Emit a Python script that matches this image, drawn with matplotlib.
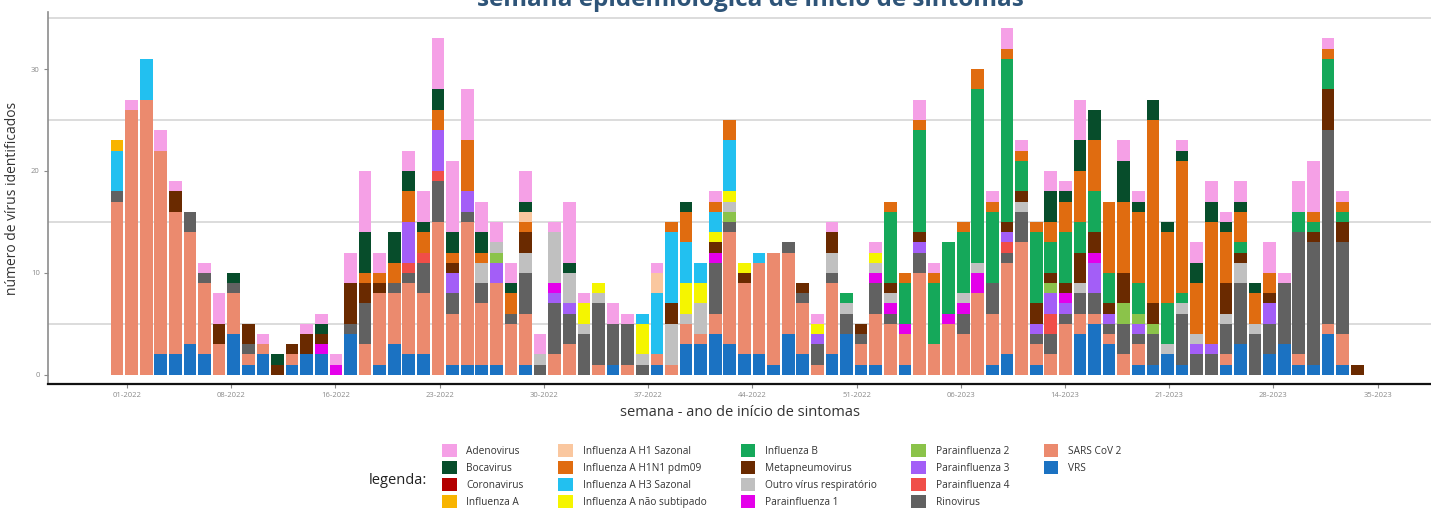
import numpy as np
import matplotlib.pyplot as plt
from matplotlib.patches import Patch

plt.rcParams['font.family'] = ['Open Sans', 'DejaVu Sans']

# x tick labels (epi week - year), one every ~50 days
tick_labels = ['01-2022', '08-2022', '16-2022', '23-2022', '30-2022', '37-2022', '44-2022',
               '51-2022', '06-2023', '14-2023', '21-2023', '28-2023', '35-2023']

# weekly counts, 86 weeks (01-2022 ... 34-2023)
adenovirus = [0,1,0,2,1,0,1,3,0,0, 1,0,0,1,1,1,3,6,2,0, 2,3,5,7,5,3,2,2,3,2,
              1,6,1,0,2,1,0,1,0,0, 0,1,0,0,0,0,0,0,1,1, 0,0,1,0,0,2,1,0,0,0,
              1,2,1,0,2,1,4,0,0,2, 1,0,0,1,2,2,1,2,0,3, 1,3,5,1,1,0]
bocavirus = [0,0,0,0,0,0,0,0,1,0, 0,1,0,0,1,0,0,4,0,3, 2,1,2,2,0,2,0,1,1,0,
             0,1,0,0,0,0,0,0,0,1, 0,0,0,0,0,0,0,0,0,0, 0,0,0,0,0,0,0,0,0,0,
             0,0,0,0,3,1,3,3,0,4, 1,2,1,1,2,2,1,1,1,0, 0,0,0,0,0,0]
coronavirus = [0] * 86
flu_a = [1,0,0,0,0,0,0,0,0,0, 0,0,0,0,0,0,0,0,0,0, 0,0,0,0,0,0,0,0,0,0,
         0,0,0,0,0,0,0,0,0,0, 0,0,0,0,0,0,0,0,0,0, 0,0,0,0,0,0,0,0,0,0,
         0,0,0,0,0,0,0,0,0,0, 0,0,0,0,0,0,0,0,0,0, 0,0,0,0,0,0]
flu_h1 = [0,0,0,0,0,0,0,0,0,0, 0,0,0,0,0,0,0,0,0,0, 0,0,0,0,0,0,0,0,1,0,
          0,0,0,0,0,0,0,2,0,0, 0,0,0,0,0,0,0,0,0,0, 0,0,0,0,0,0,0,0,0,0,
          0,0,0,0,0,0,0,0,0,0, 0,0,0,0,0,0,0,0,0,0, 0,0,0,0,0,0]
flu_pdm09 = [0,0,0,0,0,0,0,0,0,0, 0,0,0,0,0,0,0,1,1,2, 3,2,2,1,5,1,0,2,1,0,
             0,0,0,0,0,0,0,0,1,3, 0,1,2,0,0,0,0,0,0,0, 0,0,0,1,1,1,1,0,1,2,
             1,1,1,1,2,3,5,5,7,7, 7,18,7,13,5,12,5,3,3,2, 0,0,1,1,1,0]
flu_h3 = [4,0,4,0,0,0,0,0,0,0, 0,0,0,0,0,0,0,0,0,0, 0,0,0,0,0,0,0,0,0,0,
          0,0,0,0,0,0,1,6,7,4, 2,2,5,0,1,0,0,0,0,0, 0,0,0,0,0,0,0,0,0,0,
          0,0,0,0,0,0,0,0,0,0, 0,0,0,0,0,0,0,0,0,0, 0,0,0,0,0,0]
flu_a_ns = [0,0,0,0,0,0,0,0,0,0, 0,0,0,0,0,0,0,0,0,0, 0,0,0,0,0,0,0,0,0,0,
            0,0,2,1,0,0,3,0,0,3, 2,1,1,1,0,0,0,0,1,0, 0,0,1,0,0,0,0,0,0,0,
            0,0,0,0,0,0,0,0,0,0, 0,0,0,0,0,0,0,0,0,0, 0,0,0,0,0,0]
flu_b = [0,0,0,0,0,0,0,0,0,0, 0,0,0,0,0,0,0,0,0,0, 0,0,0,0,0,0,0,0,0,0,
         0,0,0,0,0,0,0,0,0,0, 0,0,0,0,0,0,0,0,0,0, 1,0,0,7,4,10,6,7,6,17,
         7,16,3,7,3,5,3,4,3,0, 3,0,4,1,0,0,0,1,0,0, 0,2,1,3,1,0]
metapneumo = [0,0,0,0,2,0,0,2,0,2, 0,1,1,2,1,0,4,2,1,0, 0,0,0,1,0,0,0,0,2,0,
              0,0,0,0,0,0,0,0,2,0, 0,1,0,1,0,0,0,1,0,2, 0,1,0,1,0,1,0,0,0,0,
              0,1,1,2,1,1,3,2,1,3, 0,2,0,0,0,0,3,1,0,1, 0,0,1,4,2,1]
outro = [0,0,0,0,0,0,0,0,0,0, 0,0,0,0,0,0,0,0,0,0, 0,0,0,0,0,2,1,0,2,1,
         5,3,1,1,0,0,1,0,4,1, 3,0,1,0,0,0,0,0,0,2, 1,0,1,1,0,0,0,0,1,1,
         0,0,1,0,0,0,1,0,0,0, 0,0,1,1,1,0,1,2,1,0, 0,0,0,0,0,0]
para1 = [0,0,0,0,0,0,0,0,0,0, 0,0,0,0,1,1,0,0,0,0, 0,0,0,0,0,0,0,0,0,0,
         1,0,0,0,0,0,0,0,0,0, 0,1,0,0,0,0,0,0,0,0, 0,0,1,1,1,0,0,1,1,2,
         0,0,0,0,0,1,0,1,0,0, 0,0,0,0,0,0,0,0,0,0, 0,0,0,0,0,0]
para2 = [0,0,0,0,0,0,0,0,0,0, 0,0,0,0,0,0,0,0,0,0, 0,0,0,0,0,0,1,0,0,0,
         0,0,0,0,0,0,0,0,0,0, 0,0,1,0,0,0,0,0,0,0, 0,0,0,0,0,0,0,0,0,0,
         0,0,0,0,1,0,0,0,0,2, 1,1,0,0,0,0,0,0,0,0, 0,0,0,0,0,0]
para3 = [0,0,0,0,0,0,0,0,0,0, 0,0,0,0,0,0,0,0,0,0, 4,0,4,2,2,0,2,0,0,0,
         1,1,0,0,0,0,0,0,0,0, 0,0,0,0,0,0,0,0,1,0, 0,0,0,0,0,1,0,0,0,0,
         0,1,0,1,2,1,0,3,1,0, 1,0,0,0,1,1,0,0,0,2, 0,0,0,0,0,0]
para4 = [0,0,0,0,0,0,0,0,0,0, 0,0,0,0,0,0,0,0,0,0, 1,1,1,0,0,0,0,0,0,0,
         0,0,0,0,0,0,0,0,0,0, 0,0,0,0,0,0,0,0,0,0, 0,0,0,0,0,0,0,0,0,0,
         0,1,0,0,2,0,0,0,0,0, 0,0,0,0,0,0,0,0,0,0, 0,0,0,0,0,0]
rinovirus = [1,0,0,0,0,2,1,0,1,1, 0,0,0,0,0,0,1,4,0,1, 1,3,4,2,1,2,0,1,4,1,
             5,3,4,6,4,4,1,0,0,0, 0,5,1,0,0,0,1,1,2,1, 2,1,3,1,0,2,0,0,2,0,
             3,1,3,1,2,1,2,2,1,3, 1,3,0,5,2,2,3,6,4,3, 6,12,12,19,9,0]
sars_cov2 = [17,26,27,20,14,11,7,3,4,1, 1,0,1,0,0,0,0,3,7,5, 7,6,15,5,14,6,8,5,5,0,
             2,3,0,1,0,1,0,1,1,2, 1,2,11,7,9,11,8,5,1,7, 0,2,5,5,3,10,3,5,4,8,
             5,9,13,2,2,5,2,1,1,2, 2,0,0,0,0,0,1,0,0,0, 0,1,0,1,3,0]
vrs = [0,0,0,2,2,3,2,0,4,1, 2,0,1,2,2,0,4,0,1,3, 2,2,0,1,1,1,1,0,1,0,
       0,0,0,0,1,0,0,1,0,3, 3,4,3,2,2,1,4,2,0,2, 4,1,1,0,1,0,0,0,0,0,
       1,2,0,1,0,0,4,5,3,0, 1,1,2,1,0,0,1,3,0,2, 3,1,1,4,1,0]

names = ['Adenovirus', 'Bocavirus', 'Coronavirus', 'Influenza A', 'Influenza A H1 Sazonal',
         'Influenza A H1N1 pdm09', 'Influenza A H3 Sazonal', 'Influenza A não subtipado',
         'Influenza B', 'Metapneumovirus', 'Outro vírus respiratório', 'Parainfluenza 1',
         'Parainfluenza 2', 'Parainfluenza 3', 'Parainfluenza 4', 'Rinovirus', 'SARS CoV 2', 'VRS']
series = [adenovirus, bocavirus, coronavirus, flu_a, flu_h1, flu_pdm09, flu_h3, flu_a_ns,
          flu_b, metapneumo, outro, para1, para2, para3, para4, rinovirus, sars_cov2, vrs]
colors = ['#f5a0e6', '#074d2b', '#b30000', '#f8b400', '#fac79f', '#e06c10', '#22c0f0',
          '#f5f500', '#15a85a', '#6a2a00', '#c0c0c0', '#e400ea', '#8bc34a', '#a35ef7',
          '#f04e48', '#616161', '#eb8a6e', '#1b72c2']

W, H = 1431, 513
fig = plt.figure(figsize=(W / 100, H / 100), dpi=100)
ax = fig.add_axes([48 / W, 1 - 384 / H, 1 - 48 / W, 372 / H])

x = np.arange(len(vrs))
bottom = np.zeros(len(x))
# ggplot stacks the first level on top, so draw from the last name upwards
for name, vals, col in reversed(list(zip(names, series, colors))):
    vals = np.array(vals, dtype=float)
    ax.bar(x, vals, bottom=bottom, width=0.87, color=col, linewidth=0)
    bottom += vals

for g in [5, 15, 25, 35]:
    ax.axhline(g, color='#d9d9d9', lw=1.3, zorder=0)

ax.set_xlim(-4.73, 90.06)
ax.set_ylim(-0.9, 35.6)
ax.set_xticks(0.685 + np.arange(len(tick_labels)) * 50 / 7)
ax.set_xticklabels(tick_labels, fontsize=5.5, color='#8a8a8a')
ax.set_yticks([0, 10, 20, 30])
ax.set_yticklabels(['0', '10', '20', '30'], fontsize=5.5, color='#8a8a8a')
ax.tick_params(axis='both', length=3, width=0.8, color='#8a8a8a', pad=3)
for s in ['top', 'right']:
    ax.spines[s].set_visible(False)
ax.spines['left'].set_color('#8c8c8c')
ax.spines['left'].set_linewidth(1.2)
ax.spines['bottom'].set_color('#111111')
ax.spines['bottom'].set_linewidth(1.6)

ax.set_ylabel('número de vírus identificados', fontsize=10, color='#333333', labelpad=8)
ax.set_xlabel('semana - ano de início de sintomas', fontsize=10.5, color='#333333', labelpad=4)

# the reference picture is cropped through the title, only its lower part shows
fig.text(750 / W, 1 - 6 / H, 'semana epidemiológica de início de sintomas', ha='center',
         va='baseline', fontsize=17.5, fontweight='bold', color='#2e5478')

handles = [Patch(facecolor=c, edgecolor='none') for c in colors]
labels = list(names)
handles += [Patch(facecolor='none', edgecolor='none')] * 2
labels += ['', '']
fig.legend(handles, labels, ncol=5, loc='upper left', bbox_to_anchor=(442 / W, 1 - 444 / H),
           frameon=False, fontsize=7.3, handlelength=1.45, handleheight=1.6,
           handletextpad=0.95, labelspacing=0.4, columnspacing=3.4, borderpad=0,
           borderaxespad=0, labelcolor='#333333')
fig.text(398 / W, 1 - 481 / H, 'legenda:', ha='center', va='center', fontsize=10.5, color='#222222')

fig.savefig('out.png', dpi=100)
